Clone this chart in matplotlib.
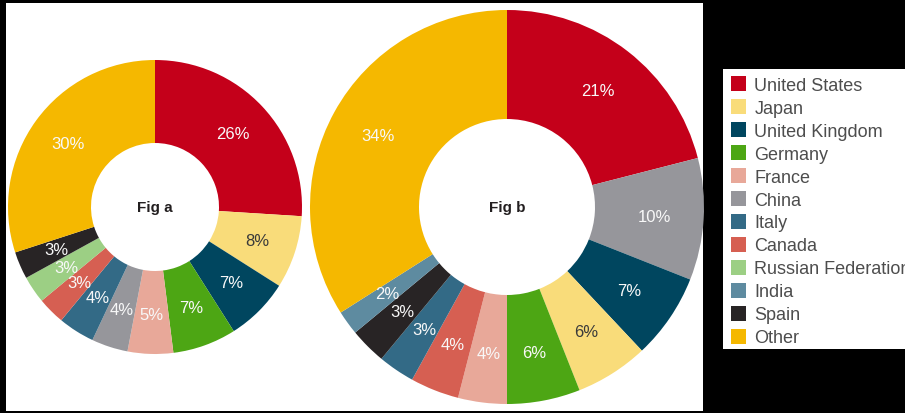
import matplotlib.pyplot as plt
from matplotlib.patches import Patch, Rectangle

plt.rcParams['font.family'] = ['Liberation Sans', 'DejaVu Sans']

# legend order and colours
countries = ["United States", "Japan", "United Kingdom", "Germany", "France",
             "China", "Italy", "Canada", "Russian Federation", "India", "Spain", "Other"]
colors = {
    "United States": "#c4001a",
    "Japan": "#f9dc7a",
    "United Kingdom": "#00465f",
    "Germany": "#4da614",
    "France": "#e8a899",
    "China": "#96969b",
    "Italy": "#336a86",
    "Canada": "#d65f52",
    "Russian Federation": "#9ccf84",
    "India": "#5e8ba0",
    "Spain": "#282425",
    "Other": "#f5b800",
}

# Fig a (clockwise from 12 o'clock)
a_labels = ["United States", "Japan", "United Kingdom", "Germany", "France", "China",
            "Italy", "Canada", "Russian Federation", "Spain", "Other"]
a_values = [26, 8, 7, 7, 5, 4, 4, 3, 3, 3, 30]

# Fig b
b_labels = ["United States", "China", "United Kingdom", "Japan", "Germany", "France",
            "Canada", "Italy", "Spain", "India", "Other"]
b_values = [21, 10, 7, 6, 6, 4, 4, 3, 3, 2, 34]

W, H = 905, 414
fig = plt.figure(figsize=(W / 100, H / 100), dpi=100, facecolor='black')

# white panel behind the donuts and the legend box
fig.add_artist(Rectangle((6 / W, 2 / H), 697 / W, 408 / H, transform=fig.transFigure,
                         facecolor='white', edgecolor='none', zorder=0))
fig.add_artist(Rectangle((723 / W, 1 - 350 / H), 182 / W, 280 / H, transform=fig.transFigure,
                         facecolor='white', edgecolor='none', zorder=0))


def donut(cx, cy, R, r, labels, values, title, pctdist):
    ax = fig.add_axes([(cx - R) / W, (H - cy - R) / H, 2 * R / W, 2 * R / H])
    wedges, texts, autotexts = ax.pie(
        values, colors=[colors[c] for c in labels], startangle=90, counterclock=False,
        radius=1, wedgeprops=dict(width=(R - r) / R, linewidth=0),
        autopct='%.0f%%', pctdistance=pctdist,
        textprops=dict(color='#f8f8f8', fontsize=12))
    for c, t in zip(labels, autotexts):
        if c == "Japan":
            t.set_color('#3a3a3a')
    ax.text(0, 0, title, ha='center', va='center', fontsize=11,
            fontweight='bold', color='#231f20')
    ax.set_xlim(-1, 1)
    ax.set_ylim(-1, 1)
    return ax


donut(155, 208, 147, 64, a_labels, a_values, "Fig a", 0.73)
donut(507, 208, 197, 88, b_labels, b_values, "Fig b", 0.75)

handles = [Patch(facecolor=colors[c], edgecolor='none', label=c) for c in countries]
fig.legend(handles=handles, loc='upper left', bbox_to_anchor=(731 / W, 1 - 77 / H),
           frameon=False, fontsize=13, labelcolor='#4d4d4d',
           handlelength=0.85, handleheight=0.9, handletextpad=0.45,
           labelspacing=0.29, borderpad=0, borderaxespad=0)

fig.savefig('out.png', dpi=100, facecolor=fig.get_facecolor())
